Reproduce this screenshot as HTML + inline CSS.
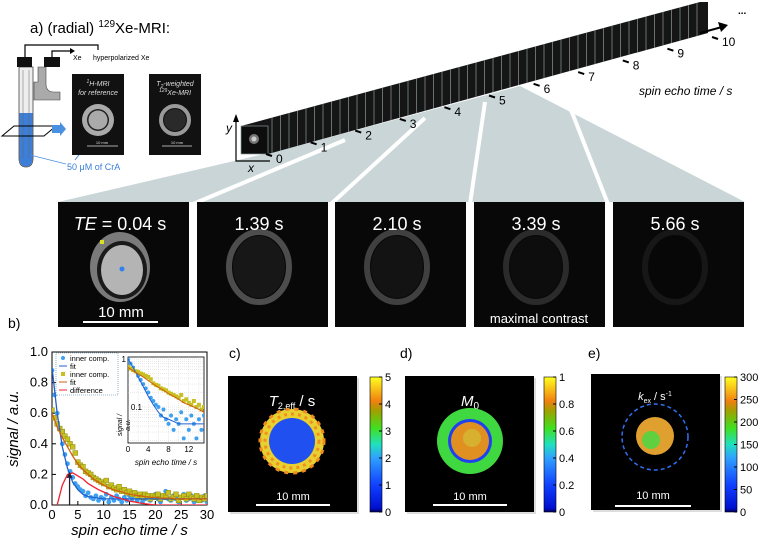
<!DOCTYPE html>
<html><head><meta charset="utf-8"><style>
html,body{margin:0;padding:0;background:#fff}
svg{display:block;font-family:"Liberation Sans","DejaVu Sans",sans-serif}
</style></head><body>
<svg id="fig" width="768" height="543" viewBox="0 0 768 543" xmlns="http://www.w3.org/2000/svg">
<defs>
<linearGradient id="jet" x1="0" y1="1" x2="0" y2="0">
<stop offset="0" stop-color="#000060"/><stop offset="0.03" stop-color="#0010d0"/><stop offset="0.2" stop-color="#1040ff"/><stop offset="0.4" stop-color="#30a0ff"/><stop offset="0.5" stop-color="#20e0c0"/><stop offset="0.62" stop-color="#40e020"/><stop offset="0.75" stop-color="#a0a000"/><stop offset="0.82" stop-color="#f08010"/><stop offset="1" stop-color="#ffff20"/>
</linearGradient>
</defs>

<!-- gray fan -->
<polygon points="58,202 290,148 520,86 745,202" fill="#c9d5d6"/>
<g stroke="#fff" stroke-width="4">
<line x1="345" y1="140" x2="193" y2="204"/><line x1="425" y1="118" x2="331" y2="204"/><line x1="485" y1="102" x2="470" y2="204"/><line x1="560" y1="82" x2="608" y2="204"/>
</g>

<!-- title -->
<text x="30" y="33" font-size="15">a) (radial) <tspan font-size="10" dy="-6">129</tspan><tspan dy="6">Xe-MRI:</tspan></text>

<!-- tube setup -->
<g>
<polyline points="25,57 25,45 98,45 98,50" fill="none" stroke="#000" stroke-width="1.2"/>
<polyline points="52,57 52,51 70,51" fill="none" stroke="#000" stroke-width="1.2"/>
<polygon points="70,48 75,51 70,54" fill="#000"/>
<text x="73" y="60" font-size="7">Xe</text>
<text x="93" y="60" font-size="7">hyperpolarized Xe</text>
<path d="M46,67 V84 Q46,92 54,92 H60 V100 H34 V82 H38 V67 Z" fill="#aaa" stroke="#444" stroke-width="0.6"/>
<path d="M19,67 V158 Q19,167 26,167 Q33,167 33,158 V67 Z" fill="#eee" stroke="#444" stroke-width="0.8"/>
<path d="M19.5,113 V158 Q19.5,166.5 26,166.5 Q32.5,166.5 32.5,158 V113 Z" fill="#3d7fd8"/>
<line x1="23" y1="70" x2="23" y2="158" stroke="#666" stroke-width="0.5"/><line x1="29" y1="70" x2="29" y2="158" stroke="#666" stroke-width="0.5"/>
<rect x="17" y="57" width="15" height="10" fill="#111"/>
<rect x="44" y="57" width="16" height="10" fill="#111"/>
<polygon points="2,136 14,126 56,126 44,136" fill="none" stroke="#000" stroke-width="1"/>
<polygon points="52,125 60,125 60,122 66,129 60,136 60,133 52,133" fill="#4a90e0"/>
<line x1="30" y1="155" x2="66" y2="164" stroke="#4a90e0" stroke-width="0.8"/>
<line x1="75" y1="160" x2="108" y2="117" stroke="#4a90e0" stroke-width="1"/>
<text x="67" y="170" font-size="9" fill="#3a7fd8">50 μM of CrA</text>
</g>

<!-- reference images -->
<g>
<rect x="72" y="74" width="52" height="81" fill="#111"/>
<text x="98" y="86" font-size="7" fill="#ddd" text-anchor="middle" font-style="italic"><tspan font-size="5" dy="-3">1</tspan><tspan dy="3">H-MRI</tspan></text>
<text x="98" y="95" font-size="7" fill="#ddd" text-anchor="middle" font-style="italic">for reference</text>
<circle cx="98" cy="120" r="16" fill="#aaa"/><circle cx="98" cy="120" r="11" fill="#222"/><circle cx="98" cy="120" r="9.5" fill="#aaa"/>
<line x1="87" y1="146" x2="118" y2="146" stroke="#ddd" stroke-width="0.8"/><text x="102" y="144" font-size="4" fill="#ddd" text-anchor="middle">10 mm</text>
</g>
<g>
<rect x="149" y="74" width="52" height="81" fill="#111"/>
<text x="175" y="86" font-size="7" fill="#ddd" text-anchor="middle" font-style="italic">T<tspan font-size="5" dy="2">2</tspan><tspan dy="-2">-weighted</tspan></text>
<text x="175" y="95" font-size="7" fill="#ddd" text-anchor="middle" font-style="italic"><tspan font-size="5" dy="-3">129</tspan><tspan dy="3">Xe-MRI</tspan></text>
<circle cx="175" cy="120" r="14" fill="none" stroke="#999" stroke-width="4"/><circle cx="175" cy="120" r="11" fill="#2a2a2a"/>
<line x1="162" y1="146" x2="192" y2="146" stroke="#ddd" stroke-width="0.8"/><text x="177" y="144" font-size="4" fill="#ddd" text-anchor="middle">10 mm</text>
</g>

<!-- strip -->
<g>
<polygon points="241,126 700,2 708,2 708,33 268,154 241,154" fill="#151515"/>
<g id="frames" stroke="#8a9a9a" stroke-width="0.7"></g>
<rect x="241" y="126" width="27" height="28" fill="#0d0d0d" stroke="#8a9a9a" stroke-width="0.7"/>
<circle cx="254" cy="139" r="5" fill="#777"/><circle cx="254" cy="139" r="2.5" fill="#ccc"/>
</g>
<g>
<polyline points="236,120 236,161 270,161" fill="none" stroke="#000" stroke-width="1.2"/>
<polygon points="233,122 236,114 239,122" fill="#000"/>
<text x="226" y="132" font-size="12" font-style="italic">y</text>
<text x="248" y="172" font-size="12" font-style="italic">x</text>
<line x1="700" y1="33" x2="722" y2="27" stroke="#000" stroke-width="2"/>
<polygon points="718,22 728,25 721,32" fill="#000"/>
<text x="738" y="14" font-size="10" font-weight="bold">...</text>
<g id="stackticks" font-size="12"></g>
<text x="639" y="95" font-size="12" font-style="italic">spin echo time / s</text>
</g>

<!-- echo panels -->
<g id="echos"></g>

<!-- panel b -->
<g id="plotb"></g>

<!-- panel c/d/e -->
<g>
<text x="229" y="358" font-size="14">c)</text>
<rect x="230" y="378" width="129" height="136" fill="#bbb" opacity="0.5"/>
<rect x="228" y="376" width="129" height="136" fill="#000"/>
<text x="292" y="406" font-size="15" fill="#fff" text-anchor="middle"><tspan font-style="italic">T</tspan><tspan font-size="9" dy="3">2,eff</tspan><tspan dy="-3"> / s</tspan></text>
<circle cx="292" cy="441" r="32" fill="#e8d030"/>
<circle cx="292" cy="441" r="32" fill="none" stroke="#f08c20" stroke-width="3" stroke-dasharray="4 5"/>
<circle cx="292" cy="441" r="27" fill="none" stroke="#f09020" stroke-width="3" stroke-dasharray="3 4"/>
<circle cx="292" cy="441" r="23" fill="#2050f0"/>
<line x1="256" y1="505" x2="330" y2="505" stroke="#fff" stroke-width="2"/>
<text x="293" y="500" font-size="11" fill="#fff" text-anchor="middle">10 mm</text>
</g>
<g>
<text x="400" y="358" font-size="14">d)</text>
<rect x="407" y="378" width="129" height="136" fill="#bbb" opacity="0.5"/>
<rect x="405" y="376" width="129" height="136" fill="#000"/>
<text x="470" y="406" font-size="15" fill="#fff" text-anchor="middle"><tspan font-style="italic">M</tspan><tspan font-size="10" dy="3">0</tspan></text>
<circle cx="470" cy="441" r="33" fill="#40d840"/>
<circle cx="470" cy="441" r="22" fill="#2040f0"/>
<circle cx="470" cy="441" r="19" fill="#e09020"/>
<circle cx="472" cy="438" r="9" fill="#d8b030"/>
<line x1="433" y1="505" x2="507" y2="505" stroke="#fff" stroke-width="2"/>
<text x="470" y="500" font-size="11" fill="#fff" text-anchor="middle">10 mm</text>
</g>
<g>
<text x="588" y="358" font-size="14">e)</text>
<rect x="593" y="376" width="129" height="136" fill="#bbb" opacity="0.5"/>
<rect x="591" y="374" width="129" height="136" fill="#000"/>
<text x="655" y="400" font-size="11" fill="#fff" text-anchor="middle"><tspan font-style="italic">k</tspan><tspan font-size="7" dy="3">ex</tspan><tspan dy="-3"> / s</tspan><tspan font-size="7" dy="-4">-1</tspan></text>
<circle cx="655" cy="437" r="33" fill="none" stroke="#3070f0" stroke-width="1.5" stroke-dasharray="4 3"/>
<circle cx="655" cy="436" r="19" fill="#e0a030"/>
<circle cx="651" cy="440" r="9" fill="#60d040"/>
<line x1="615" y1="506" x2="691" y2="506" stroke="#fff" stroke-width="2"/>
<text x="653" y="499" font-size="11" fill="#fff" text-anchor="middle">10 mm</text>
</g>
<g id="cbars"></g>
</svg>
<script>
// ---- panel b data ----
const ptTimesStep = 0.5;
const bluePoints = [0.88,0.72,0.60,0.50,0.40,0.33,0.27,0.22,0.18,0.14,0.12,0.10,0.09,0.06,0.08,0.05,0.04,0.06,0.03,0.05,0.04,0.07,0.02,0.05,0.03,0.06,0.04,0.02,0.05,0.03,0.06,0.04,0.08,0.03,0.05,0.02,0.04,0.06,0.03,0.05,0.07,0.04,0.02,0.05,0.09,0.04,0.03,0.06,0.04,0.02,0.05,0.07,0.03,0.04,0.06,0.02,0.05,0.04,0.03,0.06,0.02];
const yellowPoints = [0.62,0.57,0.53,0.50,0.48,0.45,0.43,0.40,0.38,0.34,0.28,0.26,0.25,0.22,0.21,0.20,0.18,0.17,0.16,0.15,0.14,0.16,0.12,0.13,0.11,0.10,0.12,0.09,0.10,0.08,0.09,0.07,0.08,0.06,0.07,0.05,0.07,0.06,0.04,0.06,0.05,0.07,0.04,0.06,0.05,0.08,0.04,0.05,0.07,0.03,0.05,0.06,0.04,0.07,0.05,0.04,0.06,0.03,0.05,0.04,0.06];
const blueFit = [0.90,0.60,0.38,0.24,0.15,0.10,0.07,0.055,0.05,0.045,0.04,0.04,0.04,0.04,0.04,0.04,0.04,0.04,0.04,0.04,0.04,0.04,0.04,0.04,0.04,0.04,0.04,0.04,0.04,0.04,0.04];
const yellowFit = [0.60,0.51,0.44,0.38,0.32,0.27,0.23,0.20,0.17,0.15,0.13,0.11,0.10,0.09,0.08,0.07,0.065,0.06,0.055,0.05,0.05,0.045,0.045,0.045,0.04,0.04,0.04,0.04,0.04,0.04,0.04];
const diffCurve = [-0.30,0.0,0.13,0.20,0.21,0.19,0.17,0.14,0.12,0.10,0.085,0.07,0.055,0.045,0.035,0.025,0.02,0.013,0.008,0.004,0.0,0,0,0,0,0,0,0,0,0,0];
const peakTime = 3.4, peakValue = 0.21;
const xTicks = [0,5,10,15,20,25,30];
const yTicks = [0,0.2,0.4,0.6,0.8,1.0];
const insetXTicks = [0,4,8,12];
const echoLabels = ["TE = 0.04 s","1.39 s","2.10 s","3.39 s","5.66 s"];
const echoBrightness = [0.55,0.3,0.25,0.17,0.09];
const stackTickLabels = ["0","1","2","3","4","5","6","7","8","9","10"];
const cbC = ["0","1","2","3","4","5"], cbD = ["0","0.2","0.4","0.6","0.8","1"], cbE = ["0","50","100","150","200","250","300"];

const NS="http://www.w3.org/2000/svg";
function mk(tag, attrs, parent){const e=document.createElementNS(NS,tag);for(const k in attrs)e.setAttribute(k,attrs[k]);parent.appendChild(e);return e;}

// stack frames
const fr=document.getElementById('frames');
for(let x=272;x<=704;x+=8.5){const yt=126-(x-241)*0.27,yb=154-(x-268)*0.275;
const l=mk('line',{x1:x,y1:yt,x2:x,y2:yb},fr);

}
const st=document.getElementById('stackticks');
stackTickLabels.forEach((s,i)=>{const x=272+i*44.6,y=163-i*11.7;
const t=mk('text',{x:x+4,y:y},st);t.textContent=s;


mk('line',{x1:x-6,y1:y-9,x2:x,y2:y-7,stroke:'#000','stroke-width':2},st);});

// echo panels
const ec=document.getElementById('echos');
const panelX=[58,197,335,474,613];
echoLabels.forEach((lab,i)=>{const g=mk('g',{},ec);


const x=panelX[i];mk('rect',{x:x,y:202,width:131,height:125,fill:'#080808'},g);
const cx=x+62,cy=267,b=echoBrightness[i],c=Math.round(255*b);
if(i==0){
mk('ellipse',{cx:cx,cy:cy,rx:30,ry:35,fill:'#7a7a7a'},g);
mk('ellipse',{cx:cx+2,cy:cy+3,rx:25,ry:29,fill:'#1a1a1a'},g);
mk('ellipse',{cx:cx+2,cy:cy+3,rx:21,ry:25,fill:'#b4b4b4'},g);
mk('rect',{x:cx-20,y:cy-27,width:4,height:4,fill:'#d8e020'},g);mk('circle',{cx:cx+2,cy:cy+2,r:2.5,fill:'#3080f0'},g);}
else{
mk('ellipse',{cx:cx,cy:cy,rx:30,ry:35,fill:'none',stroke:`rgb(${c},${c},${c})`,'stroke-width':6},g);
const d=Math.round(c*0.3);mk('ellipse',{cx:cx,cy:cy,rx:26,ry:31,fill:`rgb(${d},${d},${d})`},g);}
const t=mk('text',{x:cx,y:230,'font-size':18,fill:'#fff','text-anchor':'middle'},g);
if(i==0){t.innerHTML='<tspan font-style="italic">TE</tspan> = 0.04 s';}else t.textContent=lab;
if(i==0){mk('line',{x1:x+25,y1:322,x2:x+100,y2:322,stroke:'#fff','stroke-width':2},g);const s=mk('text',{x:x+63,y:317,'font-size':15,fill:'#fff','text-anchor':'middle'},g);s.textContent='10 mm';}
if(i==3){const s=mk('text',{x:x+65,y:323,'font-size':13,fill:'#fff','text-anchor':'middle'},g);s.textContent='maximal contrast';}
});

// plot b
const pb=document.getElementById('plotb');
const X0=52,X1=207,Y0=505,Y1=352;
const X=t=>X0+t*(X1-X0)/30, Y=v=>Y0-v*(Y0-Y1)/1.0;
mk('text',{x:8,y:328,'font-size':14},pb).textContent='b)';
const cp=mk('clipPath',{id:'cpb'},pb);mk('rect',{x:X0,y:Y1,width:X1-X0,height:Y0-Y1},cp);
const axes=mk('rect',{x:X0,y:Y1,width:X1-X0,height:Y0-Y1,fill:'#fff',stroke:'#000','stroke-width':1},pb);


xTicks.forEach(v=>{mk('line',{x1:X(v),y1:Y0,x2:X(v),y2:Y0-4,stroke:'#000'},pb);const t=mk('text',{x:X(v),y:Y0+14,'font-size':13,'text-anchor':'middle'},pb);t.textContent=v;

});
yTicks.forEach(v=>{mk('line',{x1:X0,y1:Y(v),x2:X0+4,y2:Y(v),stroke:'#000'},pb);const t=mk('text',{x:X0-4,y:Y(v)+4,'font-size':13,'text-anchor':'end'},pb);t.textContent=v.toFixed(1);

});
const yl=mk('text',{x:0,y:0,'font-size':15,'font-style':'italic','text-anchor':'middle',transform:`translate(18,${(Y0+Y1)/2}) rotate(-90)`},pb);yl.textContent='signal / a.u.';


const xl=mk('text',{x:(X0+X1)/2,y:535,'font-size':15,'font-style':'italic','text-anchor':'middle'},pb);xl.textContent='spin echo time / s';


const gc=mk('g',{'clip-path':'url(#cpb)'},pb);
function line(arr,col,g,xf,yf,step){return mk('polyline',{points:arr.map((v,i)=>xf(i*step)+','+yf(v)).join(' '),fill:'none',stroke:col,'stroke-width':1.3},g);}
bluePoints.forEach((v,i)=>{const c=mk('circle',{cx:X(i*ptTimesStep),cy:Y(v),r:2.4,fill:'#3fa0f0'},gc);

});
yellowPoints.forEach((v,i)=>{const r=mk('rect',{x:X(i*ptTimesStep)-2.4,y:Y(v)-2.4,width:4.8,height:4.8,fill:'#c8c020',stroke:'#8a8a10','stroke-width':0.5},gc);

});
const lb=line(blueFit,'#2060d0',gc,X,Y,1);
const ly=line(yellowFit,'#d06010',gc,X,Y,1);
const ld=line(diffCurve,'#f02030',gc,X,Y,1);
mk('line',{x1:X(peakTime),y1:Y(0),x2:X(peakTime),y2:Y(peakValue)+3,stroke:'#223','stroke-width':1.3},pb);
mk('polygon',{points:`${X(peakTime)-3},${Y(peakValue)+5} ${X(peakTime)},${Y(peakValue)-1} ${X(peakTime)+3},${Y(peakValue)+5}`,fill:'#223'},pb);
// legend
const lg=mk('g',{},pb);
mk('rect',{x:56,y:353,width:62,height:42,fill:'#fff',stroke:'#4a7aa0','stroke-width':0.6,'stroke-dasharray':'1 1'},lg);
const le=[['inner comp.','dot','#3fa0f0'],['fit','line','#2060d0'],['inner comp.','sq','#c8c020'],['fit','line','#d06010'],['difference','line','#f02030']];
le.forEach((e,i)=>{const y=360+i*8;if(e[1]=='dot')mk('circle',{cx:63,cy:y-2,r:2,fill:e[2]},lg);else if(e[1]=='sq')mk('rect',{x:61,y:y-4,width:4,height:4,fill:e[2]},lg);else mk('line',{x1:59,y1:y-2,x2:67,y2:y-2,stroke:e[2],'stroke-width':1},lg);
const t=mk('text',{x:70,y:y+1,'font-size':7.5},lg);t.textContent=e[0];});
// inset
const IX0=128,IX1=204,IY0=443,IY1=357;
const IX=t=>IX0+t*(IX1-IX0)/15, IY=v=>359-Math.log10(v)*48;
const ins=mk('g',{},pb);
mk('rect',{x:IX0,y:IY1,width:IX1-IX0,height:IY0-IY1,fill:'#fff',stroke:'#000','stroke-width':0.8},ins);
const cpi=mk('clipPath',{id:'cpi'},ins);mk('rect',{x:IX0,y:IY1,width:IX1-IX0,height:IY0-IY1},cpi);
const gi=mk('g',{'clip-path':'url(#cpi)'},ins);
[1,2,3,4,5,6,7,8,9].forEach(k=>{[0.01,0.1,1].forEach(d=>{mk('line',{x1:IX0,x2:IX1,y1:IY(k*d),y2:IY(k*d),stroke:'#ccc','stroke-width':0.4,'stroke-dasharray':'1 1'},gi);});});
[2,4,6,8,10,12,14].forEach(v=>mk('line',{x1:IX(v),x2:IX(v),y1:IY1,y2:IY0,stroke:'#ccc','stroke-width':0.4,'stroke-dasharray':'1 1'},gi));
bluePoints.forEach((v,i)=>{if(i*ptTimesStep<=15)mk('circle',{cx:IX(i*ptTimesStep),cy:IY(v/0.9),r:2,fill:'#3fa0f0'},gi);});
yellowPoints.forEach((v,i)=>{if(i*ptTimesStep<=15)mk('rect',{x:IX(i*ptTimesStep)-2,y:IY(v/0.9)-2,width:4,height:4,fill:'#c8c020'},gi);});
mk('polyline',{points:blueFit.map((v,i)=>IX(i)+','+IY(v/0.9)).join(' '),fill:'none',stroke:'#2060d0','stroke-width':1},gi);
mk('polyline',{points:yellowFit.map((v,i)=>IX(i)+','+IY(v/0.9)).join(' '),fill:'none',stroke:'#d06010','stroke-width':1},gi);
insetXTicks.forEach(v=>{const t=mk('text',{x:IX(v),y:IY0+9,'font-size':8,'text-anchor':'middle'},ins);t.textContent=v;});
mk('text',{x:IX0-2,y:IY(1)+3,'font-size':8,'text-anchor':'end'},ins).textContent='1';
mk('text',{x:IX0+14,y:IY(0.1)+3,'font-size':8,'text-anchor':'end'},ins).textContent='0.1';
mk('text',{x:0,y:0,'font-size':7,'font-style':'italic','text-anchor':'middle',transform:`translate(122,425) rotate(-90)`},ins).textContent='signal /';
mk('text',{x:0,y:0,'font-size':7,'font-style':'italic','text-anchor':'middle',transform:`translate(130,425) rotate(-90)`},ins).textContent='a.u.';
mk('text',{x:166,y:465,'font-size':8,'font-style':'italic','text-anchor':'middle'},ins).textContent='spin echo time / s';

// colorbars
const cb=document.getElementById('cbars');
[[370,377,512,cbC],[544,377,512,cbD],[725,377,512,cbE]].forEach(([x,y0,y1,labs],j)=>{const g=mk('g',{},cb);


mk('rect',{x:x,y:y0,width:12,height:y1-y0,fill:'url(#jet)',stroke:'#000','stroke-width':0.6},g);
labs.forEach((s,i)=>{const y=y1-i*(y1-y0)/(labs.length-1);mk('line',{x1:x+9,x2:x+12,y1:y,y2:y,stroke:'#000'},g);const t=mk('text',{x:x+15,y:y+4,'font-size':11},g);t.textContent=s;});});
</script>
</body></html>
